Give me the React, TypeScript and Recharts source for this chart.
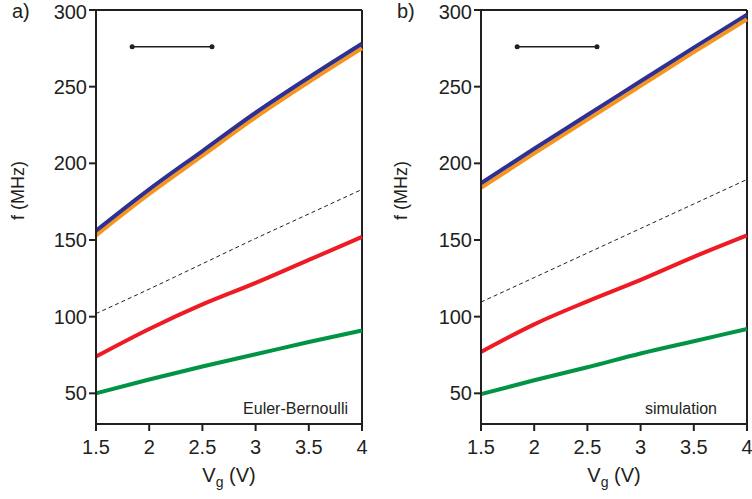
import { LineChart, Line, XAxis, YAxis, ReferenceLine, ReferenceDot } from 'recharts'

const vg = [1.5, 2, 2.5, 3, 3.5, 4]
const xTicks = [1.5, 2, 2.5, 3, 3.5, 4]
const yTicks = [50, 100, 150, 200, 250, 300]

// panel a: Euler-Bernoulli
const blueA = [156, 183, 208, 233, 256, 278]
const orangeA = [153, 180, 205, 230, 253, 275]
const dashA = [102, 118, 134.5, 151, 167, 183]
const redA = [74, 92, 108, 122, 137, 152]
const greenA = [50, 59, 67.5, 75.5, 83.5, 91]

// panel b: simulation
const blueB = [187, 209.5, 231.5, 253.5, 275.5, 297]
const orangeB = [184, 206.5, 228.5, 250.5, 272.5, 294]
const dashB = [109.5, 125.5, 141.5, 157.5, 173.5, 189.5]
const redB = [77, 95, 110, 124, 139, 153]
const greenB = [49.5, 58.5, 67, 76, 84, 92]

const scaleBar = { x1: 1.84, x2: 2.59, y: 276 }

const INK = '#231F20'
const FONT = '"Liberation Sans", Arial, sans-serif'

function build(blue: number[], orange: number[], dash: number[], red: number[], green: number[]) {
  return vg.map((v, i) => ({ vg: v, blue: blue[i], orange: orange[i], dash: dash[i], red: red[i], green: green[i] }))
}

interface PanelProps {
  data: ReturnType<typeof build>
  left: number
  width: number
  letter: string
  note: string
  noteRight: number
  labelX: number
  letterX: number
}

function Panel({ data, left, width, letter, note, noteRight, labelX, letterX }: PanelProps) {
  const axisStyle = { stroke: INK, strokeWidth: 2 }
  return (
    <>
      <div style={{ position: 'absolute', left, top: 0 }}>
        <LineChart width={width} height={499} data={data} margin={{ top: 10, right: 8, left: 46, bottom: 45 }}>
          <XAxis
            dataKey="vg"
            type="number"
            domain={[1.5, 4]}
            ticks={xTicks}
            tickSize={7}
            tickMargin={9}
            axisLine={axisStyle}
            tickLine={axisStyle}
            height={30}
            tick={{ fill: INK, fontSize: 20, fontFamily: FONT }}
          />
          <YAxis
            type="number"
            domain={[30, 300]}
            ticks={yTicks}
            tickSize={7}
            tickMargin={2}
            width={50}
            axisLine={axisStyle}
            tickLine={axisStyle}
            tick={{ fill: INK, fontSize: 20, fontFamily: FONT }}
          />
          <ReferenceLine y={300} stroke={INK} strokeWidth={2} />
          <ReferenceLine x={4} stroke={INK} strokeWidth={2} />
          <ReferenceLine
            segment={[{ x: scaleBar.x1, y: scaleBar.y }, { x: scaleBar.x2, y: scaleBar.y }]}
            stroke={INK}
            strokeWidth={1.5}
          />
          <ReferenceDot x={scaleBar.x1} y={scaleBar.y} r={2.5} fill={INK} stroke="none" />
          <ReferenceDot x={scaleBar.x2} y={scaleBar.y} r={2.5} fill={INK} stroke="none" />
          <Line dataKey="dash" type="monotone" stroke={INK} strokeWidth={1} strokeDasharray="4 3" dot={false} isAnimationActive={false} />
          <Line dataKey="green" type="monotone" stroke="#009444" strokeWidth={4} dot={false} isAnimationActive={false} />
          <Line dataKey="red" type="monotone" stroke="#ED1C24" strokeWidth={4} dot={false} isAnimationActive={false} />
          <Line dataKey="orange" type="monotone" stroke="#F7941D" strokeWidth={4} dot={false} isAnimationActive={false} />
          <Line dataKey="blue" type="monotone" stroke="#2E3192" strokeWidth={4} dot={false} isAnimationActive={false} />
        </LineChart>
      </div>
      <div style={{ position: 'absolute', left: letterX, top: 0, fontSize: 20, color: INK, fontFamily: FONT }}>{letter}</div>
      <div
        style={{
          position: 'absolute',
          left: labelX - 40,
          top: 180,
          width: 80,
          textAlign: 'center',
          fontSize: 18,
          color: INK,
          fontFamily: FONT,
          transform: 'rotate(-90deg)',
          whiteSpace: 'nowrap',
        }}
      >
        f (MHz)
      </div>
      <div
        style={{
          position: 'absolute',
          left: left + 46 + 50,
          width: width - 46 - 50 - 8,
          top: 464,
          textAlign: 'center',
          fontSize: 20,
          color: INK,
          fontFamily: FONT,
        }}
      >
        V<sub style={{ fontSize: 14, verticalAlign: '-0.35em' }}>g</sub> (V)
      </div>
      <div
        style={{
          position: 'absolute',
          right: 752 - noteRight,
          top: 400,
          fontSize: 16,
          color: INK,
          fontFamily: FONT,
          whiteSpace: 'nowrap',
        }}
      >
        {note}
      </div>
    </>
  )
}

export default function App() {
  const dataA = build(blueA, orangeA, dashA, redA, greenA)
  const dataB = build(blueB, orangeB, dashB, redB, greenB)
  return (
    <div style={{ position: 'absolute', left: 0, top: 0, width: 752, height: 499, background: 'white', overflow: 'hidden' }}>
      <Panel data={dataA} left={0} width={370} letter="a)" note="Euler-Bernoulli" noteRight={348} labelX={18} letterX={12} />
      <Panel data={dataB} left={385} width={370} letter="b)" note="simulation" noteRight={717} labelX={401} letterX={397} />
    </div>
  )
}
